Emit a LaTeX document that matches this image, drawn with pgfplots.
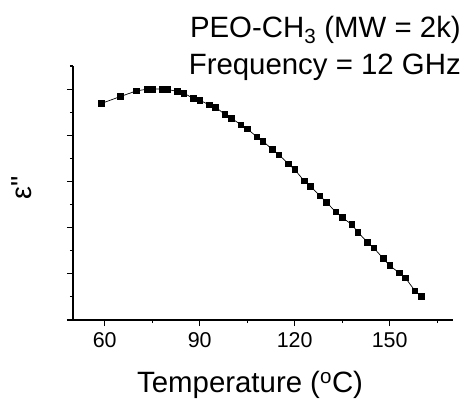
\documentclass[border=0pt]{standalone}
\usepackage{pgfplots}
\pgfplotsset{compat=1.18}
\usepackage{fontspec}
\setmainfont{Liberation Sans}

\begin{document}
\begin{tikzpicture}
% page = 463 x 400 bp, axis box lower left at (0,0)
\useasboundingbox (-73bp,-80bp) rectangle (390bp,320bp);
\begin{axis}[
    at={(0,0)}, anchor=south west,
    scale only axis, width=380bp, height=254bp,
    xmin=50, xmax=170, ymin=0, ymax=5.5,
    axis x line*=bottom, axis y line*=left,
    axis line style={line width=1.3pt},
    xtick={60,90,120,150}, minor xtick={75,105,135,165},
    ytick={0,1,2,3,4,5}, minor ytick={0.5,1.5,2.5,3.5,4.5,5.5},
    yticklabels={},
    tick align=outside,
    major tick length=6bp, minor tick length=3bp,
    tick style={line width=1.1pt, black},
    /pgf/number format/assume math mode=true,
    ticklabel style={font=\fontsize{21.5}{25}\selectfont},
    xticklabel style={yshift=-3bp},
    xlabel={Temperature (\textsuperscript{o}C)},
    xlabel style={font=\fontsize{29.5}{34}\selectfont, at={(axis description cs:0.466,-0.287)}, anchor=base},
    ylabel={ε{\addfontfeatures{Ligatures=TeXOff}"}},
    ylabel style={font=\fontsize{29}{34}\selectfont, at={(axis description cs:-0.108,0.52)}, anchor=base},
    clip=false,
]
\addplot[black, line width=0.7pt, mark=square*, mark size=2.8bp, mark options={solid}] coordinates {
(59,4.69) (65,4.84) (70,4.96) (73.5,5.00) (75,5.00) (78,5.00) (80,4.99)
(83,4.95) (85,4.91) (88,4.80) (90,4.76) (93,4.66) (95,4.61) (98,4.45)
(100,4.37) (103,4.23) (105,4.14) (108,3.97) (110,3.87) (113,3.69) (115,3.58)
(118,3.38) (120,3.26) (123,3.01) (125,2.89) (128,2.69) (130,2.55) (133,2.34)
(135,2.22) (138,2.07) (140,1.90) (143,1.68) (145,1.56) (148,1.33) (150,1.18)
(153,1.02) (155,0.91) (158,0.63) (160,0.51)};
\node[anchor=base east, font=\fontsize{29.5}{34}\selectfont, inner sep=0pt] at (rel axis cs:1.021,1.114) {PEO-CH\textsubscript{\raisebox{-0.25ex}{3}} (MW = 2k)};
\node[anchor=base east, font=\fontsize{29.5}{34}\selectfont, inner sep=0pt] at (rel axis cs:1.021,0.965) {Frequency = 12 GHz};
\end{axis}
\end{tikzpicture}
\end{document}
